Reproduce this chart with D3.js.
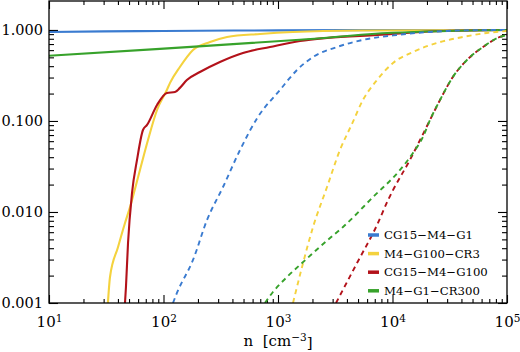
<!DOCTYPE html>
<html>
<head>
<meta charset="utf-8">
<script src="https://cdn.jsdelivr.net/npm/d3@7"></script>
<style>
  body { margin: 0; background: #fff; }
  text { font-family: "DejaVu Serif", serif; fill: #000; }
</style>
</head>
<body>
<div id="chart"></div>
<script>

// data: n [cm^-3] and cumulative fraction
const blueSolidN = [10, 30, 100, 1000, 1e4, 1e5]
const blueSolidF = [0.95, 0.965, 0.975, 0.99, 0.998, 1.0]

const yellowSolidN = [32.7, 34.1, 40.1, 46.1, 51, 62.3, 73.2, 87.8, 107, 114, 139, 181, 255, 359, 697, 1352, 5200, 1e5]
const yellowSolidF = [0.001, 0.00193, 0.00412, 0.00757, 0.01135, 0.029, 0.0618, 0.132, 0.219, 0.262, 0.392, 0.603, 0.738, 0.838, 0.904, 0.951, 0.987, 1.0]

const redSolidN = [46.1, 47, 49, 53.1, 58.7, 66.2, 71.8, 87.8, 107, 126, 139, 160, 208, 311, 494, 851, 1556, 2680, 7330, 27600, 1e5]
const redSolidF = [0.001, 0.0015, 0.00456, 0.0162, 0.0373, 0.0796, 0.0904, 0.150, 0.203, 0.208, 0.231, 0.282, 0.345, 0.445, 0.559, 0.650, 0.757, 0.817, 0.881, 0.975, 1.0]

const greenSolidN = [10, 93, 1550, 1e4, 1e5]
const greenSolidF = [0.52, 0.62, 0.78, 0.93, 1.0]

const blueDashN = [121, 131, 181, 240, 331, 466, 669, 1040, 1465, 2023, 3275, 5520, 10900, 21300, 41300, 1e5]
const blueDashF = [0.001, 0.00129, 0.00297, 0.00817, 0.0188, 0.048, 0.111, 0.219, 0.363, 0.505, 0.650, 0.777, 0.881, 0.951, 0.99, 1.0]

const yellowDashN = [1352, 1622, 2023, 2680, 3478, 4426, 5520, 7330, 10100, 15100, 24500, 41300, 66900, 1e5]
const yellowDashF = [0.001, 0.00249, 0.00684, 0.0188, 0.048, 0.0927, 0.170, 0.282, 0.434, 0.573, 0.720, 0.838, 0.927, 0.975]

const redDashN = [3210, 4900, 7330, 9140, 10100, 14200, 17400, 21300, 26000, 33700, 44700, 61700, 86900, 1e5]
const redDashF = [0.001, 0.00275, 0.0072, 0.0135, 0.0174, 0.0373, 0.0618, 0.103, 0.170, 0.305, 0.468, 0.650, 0.838, 0.881]

const greenDashN = [769, 903, 1198, 1622, 2847, 3697, 6760, 11640, 15100, 18460, 21300, 26000, 33700, 44700, 61700, 86900, 1e5]
const greenDashF = [0.001, 0.00132, 0.00193, 0.00275, 0.00518, 0.00684, 0.0146, 0.029, 0.0445, 0.0668, 0.103, 0.170, 0.305, 0.468, 0.650, 0.838, 0.881]

const seriesNames = ["CG15\u2212M4\u2212G1", "M4\u2212G100\u2212CR3", "CG15\u2212M4\u2212G100", "M4\u2212G1\u2212CR300"]
const seriesColors = ["#3a7bd0", "#f4d23e", "#b3121a", "#37a22b"]

const xTickValues = [10, 100, 1000, 1e4, 1e5]
const yTickValues = [0.001, 0.01, 0.1, 1]

// Create SVG
const margin = {top: 1, right: 13, bottom: 49, left: 49}
const width = 520 - margin.left - margin.right
const height = 352 - margin.top - margin.bottom

const svg = d3.select("#chart").append("svg")
        .attr("width", width + margin.left + margin.right)
        .attr("height", height + margin.top + margin.bottom)
    .append("g")
        .attr("transform", "translate(" + margin.left + "," + margin.top + ")")

// scales
const xScale = d3.scaleLog()
    .domain([10, 1e5])
    .range([0, width])

const yScale = d3.scaleLog()
    .domain([0.001, 2.08])
    .range([height, 0])

// minor tick positions, 2..9 in each decade
const xMinor = []
for (let d = 10; d < 1e5; d *= 10) for (let k = 2; k <= 9; k++) xMinor.push(d * k)
const yMinor = []
for (let d = 0.001; d < 0.9; d *= 10) for (let k = 2; k <= 9; k++) yMinor.push(d * k)

function styleAxis(g) {
    g.select(".domain").remove()
    g.selectAll(".tick line").attr("stroke", "#000").attr("stroke-width", 1.1)
}

// bottom axis with labels
const xGroup = svg.append("g")
        .attr("transform", `translate(0, ${height})`)
        .call(d3.axisBottom(xScale).tickValues(xTickValues).tickSizeInner(-8).tickSizeOuter(0).tickPadding(10).tickFormat(""))
        .call(styleAxis)

xGroup.selectAll(".tick text")
    .attr("font-size", 15)
    .each(function(d) {
        const t = d3.select(this)
        t.text(null)
        t.append("tspan").text("10")
        t.append("tspan").attr("dy", "-0.45em").attr("font-size", 10.5).text(Math.round(Math.log10(d)))
    })
    .attr("y", 24)
    .attr("dy", 0)

svg.append("g")
        .attr("transform", `translate(0, ${height})`)
        .call(d3.axisBottom(xScale).tickValues(xMinor).tickSizeInner(-4).tickSizeOuter(0).tickFormat(""))
        .call(styleAxis)

// top axis (ticks only)
svg.append("g")
        .call(d3.axisTop(xScale).tickValues(xTickValues).tickSizeInner(-8).tickSizeOuter(0).tickFormat(""))
        .call(styleAxis)
svg.append("g")
        .call(d3.axisTop(xScale).tickValues(xMinor).tickSizeInner(-4).tickSizeOuter(0).tickFormat(""))
        .call(styleAxis)

// left axis with labels
svg.append("g")
        .call(d3.axisLeft(yScale).tickValues(yTickValues).tickSizeInner(-9).tickSizeOuter(0).tickPadding(6).tickFormat(d3.format(".3f")))
        .call(styleAxis)
        .call(g => g.selectAll(".tick text").attr("font-size", 14.5))
svg.append("g")
        .call(d3.axisLeft(yScale).tickValues(yMinor).tickSizeInner(-5).tickSizeOuter(0).tickFormat(""))
        .call(styleAxis)

// right axis (ticks only)
svg.append("g")
        .attr("transform", `translate(${width}, 0)`)
        .call(d3.axisRight(yScale).tickValues(yTickValues).tickSizeInner(-9).tickSizeOuter(0).tickFormat(""))
        .call(styleAxis)
svg.append("g")
        .attr("transform", `translate(${width}, 0)`)
        .call(d3.axisRight(yScale).tickValues(yMinor).tickSizeInner(-5).tickSizeOuter(0).tickFormat(""))
        .call(styleAxis)

// axis title
const xLabel = svg.append("text")
        .attr("x", width / 2)
        .attr("y", height + 43)
        .attr("font-size", 15)
        .style("text-anchor", "middle")
xLabel.append("tspan").text("n\u00a0\u00a0[cm")
xLabel.append("tspan").attr("dy", "-0.45em").attr("font-size", 10.5).text("\u22123")
xLabel.append("tspan").attr("dy", "0.45em").text("]")

// lines
const clip = svg.append("clipPath").attr("id", "plot-clip")
    .append("rect").attr("width", width).attr("height", height)

const line = d3.line()
    .curve(d3.curveMonotoneX)
    .x(d => xScale(d[0]))
    .y(d => yScale(d[1]))

const plot = svg.append("g").attr("clip-path", "url(#plot-clip)")

const solid = [[blueSolidN, blueSolidF], [yellowSolidN, yellowSolidF], [redSolidN, redSolidF], [greenSolidN, greenSolidF]]
const dashed = [[blueDashN, blueDashF], [yellowDashN, yellowDashF], [redDashN, redDashF], [greenDashN, greenDashF]]

solid.forEach(([ns, fs], i) => {
    plot.append("path")
        .datum(ns.map((n, j) => [n, fs[j]]))
        .attr("fill", "none")
        .attr("stroke", seriesColors[i])
        .attr("stroke-width", 2.1)
        .attr("d", line)
})

dashed.forEach(([ns, fs], i) => {
    plot.append("path")
        .datum(ns.map((n, j) => [n, fs[j]]))
        .attr("fill", "none")
        .attr("stroke", seriesColors[i])
        .attr("stroke-width", 1.9)
        .attr("stroke-dasharray", "5,4")
        .attr("d", line)
})

// frame
svg.append("rect")
    .attr("width", width)
    .attr("height", height)
    .attr("fill", "none")
    .attr("stroke", "#000")
    .attr("stroke-width", 1.3)

// legend
const legend = svg.append("g")
    .attr("transform", `translate(${xScale(1e5) - 139}, ${yScale(0.001) - 68})`)

seriesNames.forEach((name, i) => {
    const row = legend.append("g").attr("transform", `translate(0, ${i * 18.6})`)
    row.append("line")
        .attr("x1", 0).attr("x2", 11)
        .attr("stroke", seriesColors[i])
        .attr("stroke-width", 3.5)
    row.append("text")
        .attr("x", 16)
        .attr("dy", "0.35em")
        .attr("font-size", 11.7)
        .text(name)
})

</script>
</body>
</html>
